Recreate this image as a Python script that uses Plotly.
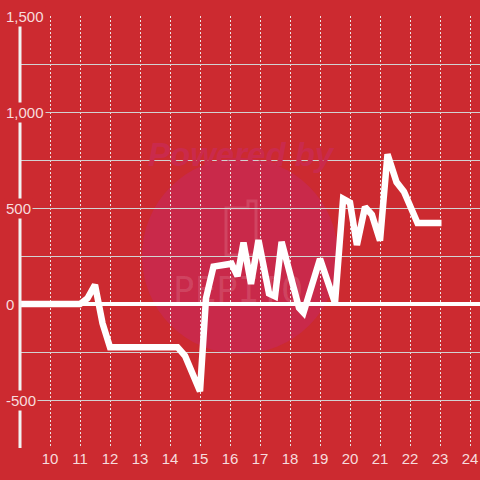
import plotly.graph_objects as go

# ---- data ----
x_vals = [9, 11, 11.25, 11.5, 11.75, 12, 14.25, 14.5, 15, 15.2, 15.45, 16.05, 16.25,
          16.45, 16.7, 16.95, 17.3, 17.5, 17.72, 18.3, 18.45, 19.0, 19.5, 19.77, 20.0,
          20.23, 20.5, 20.73, 21.0, 21.25, 21.55, 21.8, 22.25, 23.05]
y_vals = [0, 0, 30, 100, -100, -225, -225, -270, -455, 30, 195, 210, 145,
          320, 105, 333, 55, 40, 324, -20, -45, 235, 5, 548, 528,
          307, 505, 465, 330, 780, 635, 585, 422, 422]
x_ticks = list(range(10, 25))
x_tick_labels = [str(v) for v in x_ticks]
y_label_vals = [1500, 1000, 500, 0, -500]
y_label_text = ["1,500", "1,000", "500", "0", "-500"]

BG = "#CC2A30"
LABEL = "#F7DCDD"
W, H = 480, 480
L, R, T, B = 20, 0, 16, 32
PW, PH = W - L - R, H - T - B


def px_x(p):
    return (p - L) / PW


def px_y(p):
    return (H - B - p) / PH


fig = go.Figure()
fig.add_trace(go.Scatter(x=x_vals, y=y_vals, mode="lines",
                         line=dict(color="white", width=6.5), hoverinfo="skip"))

shapes = [
    # watermark circle
    dict(type="circle", xref="paper", yref="paper", layer="below",
         x0=px_x(142), x1=px_x(338), y0=px_y(354), y1=px_y(158),
         fillcolor="#C9294A", line=dict(width=0)),
    # watermark bottle outline
    dict(type="path", xref="paper", yref="paper", layer="below",
         path=f"M {px_x(226)},{px_y(255)} L {px_x(226)},{px_y(208)} L {px_x(248)},{px_y(208)} "
              f"L {px_x(248)},{px_y(201)} L {px_x(256)},{px_y(201)} L {px_x(256)},{px_y(255)} Z",
         line=dict(color="rgba(255,255,255,0.13)", width=3)),
    # left axis line
    dict(type="line", xref="paper", yref="paper", layer="above",
         x0=0, x1=0, y0=0, y1=px_y(24), line=dict(color="#F2F2F2", width=3)),
]

annotations = []
for v, t in zip(y_label_vals, y_label_text):
    annotations.append(dict(x=px_x(4), xref="paper", y=v, yref="y", text=t,
                            xanchor="left", yanchor="middle", showarrow=False,
                            bgcolor=BG, borderpad=1,
                            font=dict(family="Liberation Sans, Arial", size=15, color=LABEL)))
annotations.append(dict(x=px_x(241), y=px_y(134), xref="paper", yref="paper",
                        text="<b><i>Powered by</i></b>", showarrow=False,
                        font=dict(family="Liberation Sans, Arial", size=33, color="#CA2A4C")))
annotations.append(dict(x=px_x(238), y=px_y(289), xref="paper", yref="paper",
                        text="PEPITO", showarrow=False,
                        font=dict(family="DejaVu Sans Mono", size=36,
                                  color="rgba(255,255,255,0.13)")))

fig.update_layout(
    width=W, height=H,
    margin=dict(l=L, r=R, t=T, b=B, pad=0, autoexpand=False),
    paper_bgcolor=BG, plot_bgcolor=BG,
    showlegend=False,
    shapes=shapes, annotations=annotations,
    xaxis=dict(range=[9, 9 + PW / 30], tickvals=x_ticks, ticktext=x_tick_labels,
               showgrid=True, gridcolor="#EDE3E3", gridwidth=1, griddash="2px,2px",
               zeroline=False, showline=False, ticks="", automargin=False,
               tickfont=dict(family="Liberation Sans, Arial", size=15, color=LABEL)),
    yaxis=dict(range=[-750, 1500], dtick=250, tick0=0, showticklabels=False,
               showgrid=True, gridcolor="#D2D2D2", gridwidth=1, automargin=False,
               zeroline=True, zerolinecolor="white", zerolinewidth=4,
               showline=False, ticks=""),
)

fig.write_html("out.html", config={"displayModeBar": False},
               post_script="document.body.style.margin='0';document.body.style.overflow='hidden';")
